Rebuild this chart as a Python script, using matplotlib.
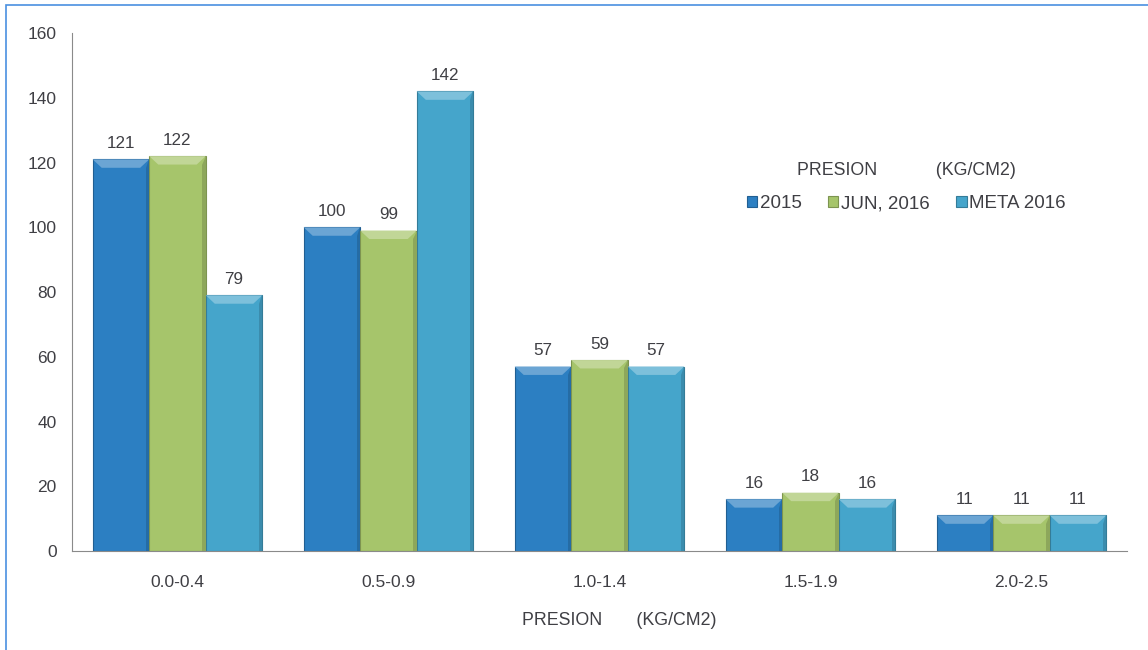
import numpy as np
import matplotlib.pyplot as plt
from matplotlib.patches import Polygon, Rectangle
from matplotlib.colors import to_rgb

plt.rcParams['font.family'] = ['Liberation Sans', 'DejaVu Sans']

categories = ['0.0-0.4', '0.5-0.9', '1.0-1.4', '1.5-1.9', '2.0-2.5']
series_names = ['2015', 'JUN, 2016', 'META 2016']
v2015 = [121, 100, 57, 16, 11]
vjun2016 = [122, 99, 59, 18, 11]
vmeta2016 = [79, 142, 57, 16, 11]
colors = ['#2c7fc2', '#a6c56b', '#45a5cb']
yticks = [0, 20, 40, 60, 80, 100, 120, 140, 160]
axis_title = 'PRESION       (KG/CM2)'
legend_title = 'PRESION            (KG/CM2)'

txt = '#3f3f44'


def lighten(c, f):
    r, g, b = to_rgb(c)
    return (r + (1 - r) * f, g + (1 - g) * f, b + (1 - b) * f)


def darken(c, f):
    r, g, b = to_rgb(c)
    return (r * (1 - f), g * (1 - f), b * (1 - f))


fig = plt.figure(figsize=(11.48, 6.5), dpi=100)
ax = fig.add_axes([0.0627, 0.1523, 0.9190, 0.7967])

x = np.arange(len(categories))
w = 0.268
allvals = [v2015, vjun2016, vmeta2016]
for i, (vals, c, name) in enumerate(zip(allvals, colors, series_names)):
    bars = ax.bar(x + (i - 1) * w, vals, w, color=c, label=name,
                  edgecolor=darken(c, 0.25), linewidth=0.8, zorder=2)
    for b in bars:
        bx, bw, bh = b.get_x(), b.get_width(), b.get_height()
        dx, dy = bw * 0.16, 2.6
        # bevel: light top face, darker sides
        ax.add_patch(Polygon([(bx, bh), (bx + bw, bh), (bx + bw - dx, bh - dy),
                              (bx + dx, bh - dy)], closed=True,
                             facecolor=lighten(c, 0.3), edgecolor='none', zorder=3))
        ax.add_patch(Polygon([(bx + bw, bh), (bx + bw, 0), (bx + bw - dx * 0.4, 0),
                              (bx + bw - dx * 0.4, bh - dy)], closed=True,
                             facecolor=darken(c, 0.15), edgecolor='none', zorder=3))
        ax.annotate(str(bh), (bx + bw / 2, bh), xytext=(0, 6), textcoords='offset points',
                    ha='center', va='bottom', fontsize=12.3, color=txt)

ax.set_xlim(-0.5, len(categories) - 0.5)
ax.set_ylim(0, 160)
ax.set_yticks(yticks)
ax.set_xticks(x)
ax.set_xticklabels(categories)
ax.tick_params(axis='both', length=0, labelsize=12.5, colors=txt)
ax.tick_params(axis='y', pad=11)
ax.tick_params(axis='x', pad=17)
for s in ['top', 'right']:
    ax.spines[s].set_visible(False)
ax.spines['left'].set_color('#8a8a8a')
ax.spines['bottom'].set_color('#8a8a8a')
ax.set_xlabel(axis_title, fontsize=12.8, color=txt, labelpad=16, x=0.519)

leg = ax.legend(title=legend_title, loc='center', bbox_to_anchor=(0.791, 0.703), ncol=3,
                frameon=False, fontsize=13.5, title_fontsize=12.8, handlelength=0.55,
                handleheight=0.55, handletextpad=0.15, columnspacing=1.4, labelcolor=txt)
leg.get_title().set_color(txt)
leg._legend_box.sep = 12

# blue frame of the scanned chart box
fig.add_artist(Rectangle((0.005, -0.1), 1.2, 1.092, transform=fig.transFigure,
                         fill=False, edgecolor='#4a90e0', linewidth=1.2))

fig.savefig('out.png', dpi=100)
